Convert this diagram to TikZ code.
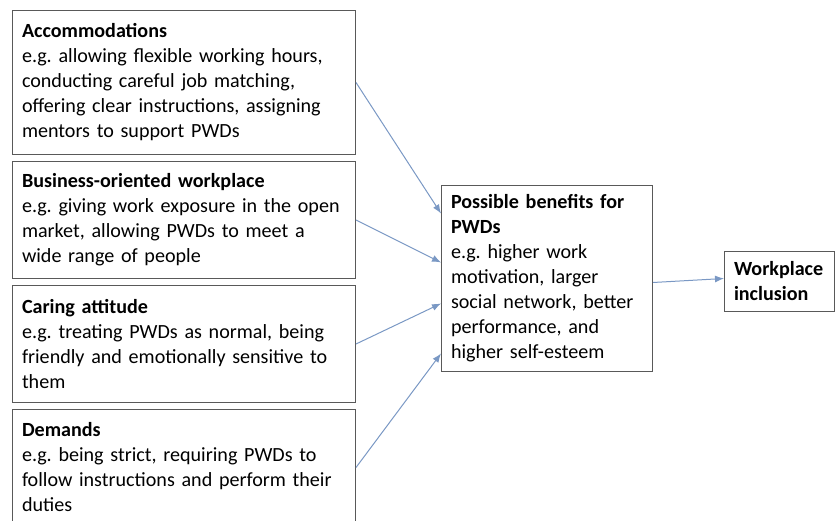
\documentclass[tikz,border=0pt]{standalone}
\usepackage{fontspec}
\setmainfont{Carlito}
\usepackage{xcolor}
\usepackage{tikz}
\usetikzlibrary{positioning}
\usetikzlibrary{arrows.meta}
\definecolor{arrowblue}{RGB}{122,152,196}
\frenchspacing
\tikzset{
	factor box/.style={draw=black!65,line width=1pt,align=left,
		text width=324pt,inner xsep=9.5pt,inner ysep=0pt,
		font=\fontsize{20.1}{25}\selectfont},
	link/.style={->,draw=arrowblue,line width=1pt}
}

\begin{document}
\begin{tikzpicture}[>={Latex[length=9pt,width=7pt]},node distance=6pt]
	\useasboundingbox (0,0) rectangle (835pt,520pt);
	% influencing factors
	\node [factor box,minimum height=144pt,anchor=north west] (acc) at (12pt,510pt)
		{\textbf{Accommodations}\\e.g. allowing flexible working hours,\\conducting careful job matching,\\offering clear instructions, assigning\\mentors to support PWDs};
	\node [factor box,minimum height=117pt,below=of acc] (bus)
		{\textbf{Business-oriented workplace}\\e.g. giving work exposure in the open\\market, allowing PWDs to meet a\\wide range of people};
	\node [factor box,minimum height=117pt,below=of bus] (car)
		{\textbf{Caring attitude}\\e.g. treating PWDs as normal, being\\friendly and emotionally sensitive to\\them};
	\node [factor box,minimum height=116pt,below=6pt of car] (dem)
		{\textbf{Demands}\\e.g. being strict, requiring PWDs to\\follow instructions and perform their\\duties};
	% benefits and outcome
	\node [factor box,text width=192pt,minimum height=186pt,anchor=north west] (ben) at (441pt,335pt)
		{\textbf{Possible benefits for}\\\textbf{PWDs}\\e.g. higher work\\motivation, larger\\social network, better\\performance, and\\higher self-esteem};
	\node [factor box,text width=91pt,minimum height=60pt,anchor=north west] (inc) at (724pt,269pt)
		{\textbf{Workplace}\\\textbf{inclusion}};
	\coordinate (b1) at ([yshift=65pt]ben.west);
	\coordinate (b2) at ([yshift=16pt]ben.west);
	\coordinate (b3) at ([yshift=-25pt]ben.west);
	\coordinate (b4) at ([yshift=-75pt]ben.west);
	\draw [link] (acc.east) -- (b1);
	\draw [link] (bus.east) -- (b2);
	\draw [link] (car.east) -- (b3);
	\draw [link] (dem.east) -- (b4);
	\draw [link] ([yshift=-4pt]ben.east) -- (ben.east -| inc.west);
\end{tikzpicture}
\end{document}
